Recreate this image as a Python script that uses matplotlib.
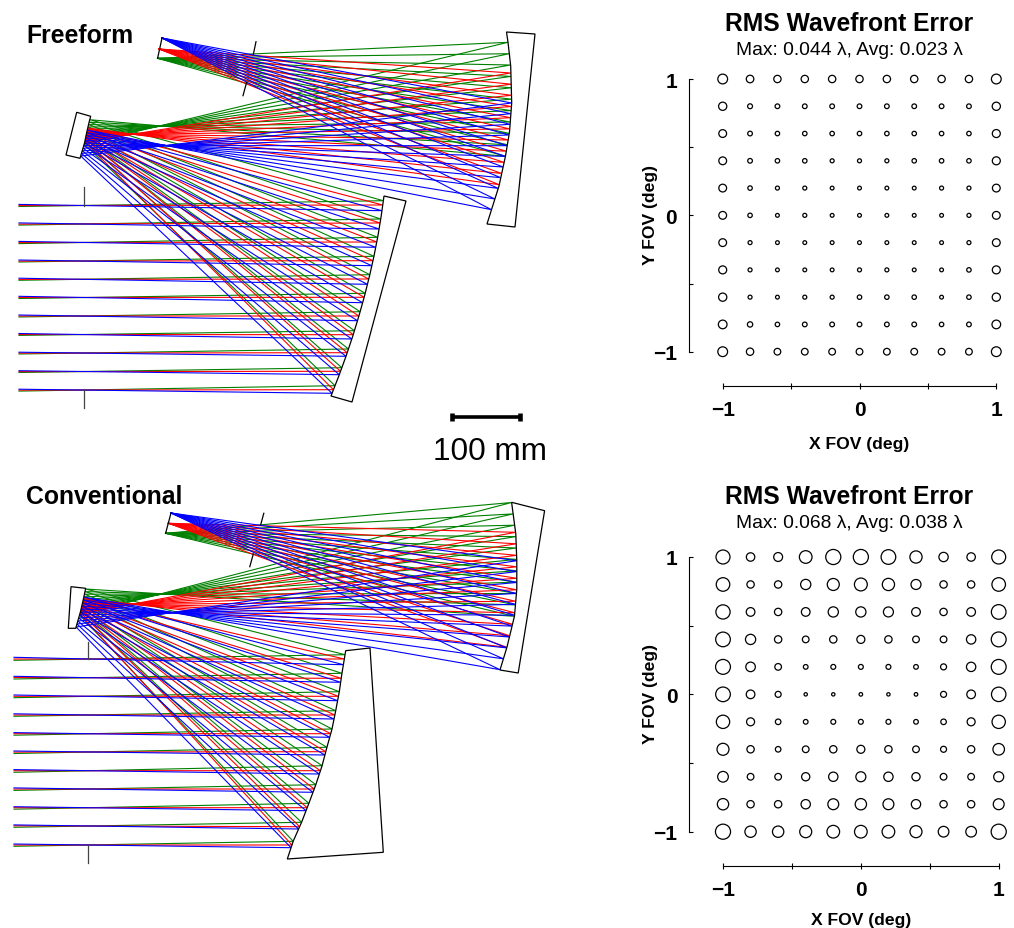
import numpy as np
import matplotlib
matplotlib.use("Agg")
import matplotlib.pyplot as plt

plt.rcParams['font.family'] = ['Liberation Sans', 'DejaVu Sans']

W, H = 1014, 929
COLORS = ['#008000', '#ff0000', '#0000ff']

# ---------- Freeform ray trace (pixel readings), fields: green, red, blue
ff_entry_x = 19
ff_entry = [
    [207.5, 226.1, 244.6, 263.0, 281.3, 299.5, 318.0, 336.4, 355.0, 373.5, 392.1],
    [206.6, 225.1, 243.6, 262.1, 280.4, 298.5, 317.0, 335.5, 354.1, 372.6, 391.1],
    [205.4, 223.9, 242.4, 261.0, 279.2, 297.3, 316.0, 334.5, 353.2, 371.7, 390.2],
]
ff_m1 = [
    [201.7, 220.0, 238.3, 257.3, 275.7, 294.3, 312.7, 331.7, 350.0, 368.7, 386.7],
    [206.0, 224.0, 243.0, 261.7, 280.0, 298.3, 317.0, 335.7, 353.7, 372.3, 390.7],
    [211.7, 230.0, 248.3, 266.7, 285.3, 303.7, 321.7, 340.0, 357.3, 375.7, 394.3],
]
ff_m2 = [
    [120.7, 123.1, 125.6, 128.0, 130.4, 132.9, 135.3, 137.7, 140.1, 142.6, 145.0],
    [129.0, 130.4, 131.8, 133.2, 134.6, 136.0, 137.4, 138.8, 140.2, 141.6, 143.0],
    [131.0, 133.6, 136.2, 138.8, 141.4, 144.0, 146.6, 149.2, 151.8, 154.4, 157.0],
]
ff_m3 = [
    [157.3, 145.8, 134.4, 123.0, 111.6, 100.2, 88.8, 77.4, 66.0, 54.7, 43.3],
    [185.7, 174.5, 163.4, 152.2, 141.0, 129.9, 118.7, 107.5, 96.3, 85.2, 74.0],
    [210.7, 200.0, 189.4, 178.7, 168.0, 157.4, 146.7, 136.0, 125.3, 114.7, 104.0],
]
ff_image = [(157.6, 59.3), (159.0, 50.0), (162.0, 39.0)]
ff_m1_y = [197, 217, 237, 257, 277, 297, 317, 337, 357, 377, 397]
ff_m1_x = [384, 381.2, 377.9, 374, 369.5, 364.5, 358.9, 352.8, 346.1, 338.8, 331]
ff_m1_back = [(352, 403), (406, 202)]
ff_m2_y = [117.3, 122, 133, 144, 159.3]
ff_m2_x = [90.7, 89.4, 86.8, 84.5, 80]
ff_m2_back = [(66, 156), (76.7, 113.3)]
ff_m3_y = [33, 43.3, 67, 104, 133, 157, 187, 211, 225]
ff_m3_x = [506.5, 508, 510.7, 511.7, 509.5, 505.5, 499, 491.4, 487]
ff_m3_back = [(515, 228), (535, 35)]
ff_image_line = [(162, 39), (157.6, 59.3)]
ff_stop_lines = [[(256, 42.7), (253.4, 55)], [(246.6, 83.3), (243, 96.7)],
                 [(83.5, 188.3), (83.5, 206.5)], [(83.5, 390.7), (83.5, 409.3)]]

# ---------- Conventional ray trace
cv_entry_x = 14
cv_entry = [
    [661.3, 680.0, 698.7, 717.3, 736.2, 754.5, 773.3, 791.4, 810.2, 828.3, 847.3],
    [660.0, 678.5, 697.3, 716.0, 734.7, 753.1, 771.7, 790.0, 808.7, 826.8, 846.0],
    [658.3, 677.3, 696.0, 714.8, 733.6, 752.0, 770.6, 788.9, 807.7, 825.9, 845.0],
]
cv_m1 = [
    [655.7, 674.3, 692.7, 711.7, 730.0, 748.3, 766.7, 785.7, 804.3, 823.3, 842.3],
    [660.0, 679.3, 697.3, 716.0, 734.7, 752.7, 771.7, 790.0, 808.7, 827.7, 846.0],
    [665.7, 683.3, 701.7, 720.0, 738.3, 756.0, 775.0, 793.3, 811.7, 830.0, 848.7],
]
cv_m2 = [
    [590.0, 592.6, 595.2, 597.8, 600.4, 603.0, 605.6, 608.2, 610.8, 613.4, 616.0],
    [599.5, 601.1, 602.6, 604.2, 605.7, 607.3, 608.8, 610.4, 611.9, 613.5, 615.0],
    [598.0, 601.0, 604.0, 607.0, 610.0, 613.0, 616.0, 619.0, 622.0, 625.0, 628.0],
]
cv_m3 = [
    [617.3, 605.9, 594.5, 583.1, 571.8, 560.4, 549.0, 537.6, 526.2, 514.9, 503.5],
    [648.3, 636.8, 625.3, 613.8, 602.3, 590.8, 579.3, 567.8, 556.3, 544.8, 533.3],
    [670.7, 659.8, 648.9, 638.0, 627.1, 616.2, 605.3, 594.4, 583.5, 572.6, 561.7],
]
cv_image = [(165.6, 534.3), (168.4, 524.3), (171.0, 514.0)]
cv_m1_y = [651.7, 674, 692.7, 711.7, 730, 748, 767, 786, 804, 823, 842, 860]
cv_m1_x = [345.7, 342, 339.3, 335.7, 332, 327, 322, 315.7, 309, 301.7, 293.3, 287.3]
cv_m1_back = [(383.3, 853.3), (370, 649)]
cv_m2_y = [589.3, 600, 613, 629.3]
cv_m2_x = [85.7, 83.4, 80.4, 75.7]
cv_m2_back = [(68.3, 629.3), (71, 587.7)]
cv_m3_y = [503.3, 535, 562, 590, 617, 648, 671]
cv_m3_x = [511.6, 515.8, 516.8, 516.8, 514.5, 507, 500]
cv_m3_back = [(518.2, 674), (544.6, 511.7)]
cv_image_line = [(171, 514), (165.6, 534.3)]
cv_stop_lines = [[(263.8, 514.3), (260.7, 525.7)], [(253.3, 555), (249.8, 567.7)],
                 [(88.4, 643), (88.4, 660)], [(88.4, 846), (88.4, 864)]]

# ---------- RMS wavefront error maps, milli-waves, rows from Y=+1 to Y=-1
fov_x = [-1, -0.8, -0.6, -0.4, -0.2, 0, 0.2, 0.4, 0.6, 0.8, 1]
fov_y = [1, 0.8, 0.6, 0.4, 0.2, 0, -0.2, -0.4, -0.6, -0.8, -1]
ff_rms = [
    [44, 34, 33, 33, 33, 33, 33, 33, 33, 33, 44],
    [37, 22, 21, 21, 21, 21, 21, 21, 21, 21, 37],
    [35, 21, 20, 20, 20, 20, 20, 20, 20, 20, 36],
    [35, 21, 20, 20, 18, 18, 18, 20, 20, 20, 36],
    [35, 20, 18, 18, 17, 17, 17, 17, 18, 18, 35],
    [35, 20, 17, 18, 17, 17, 17, 17, 17, 18, 35],
    [35, 18, 17, 17, 17, 17, 17, 17, 17, 18, 35],
    [36, 18, 17, 17, 17, 18, 18, 17, 17, 20, 36],
    [37, 18, 17, 18, 18, 20, 20, 20, 17, 20, 37],
    [39, 24, 20, 21, 21, 21, 21, 21, 20, 21, 39],
    [44, 33, 30, 30, 30, 30, 30, 30, 30, 30, 44],
]
cv_rms = [
    [63, 38, 40, 57, 68, 68, 66, 55, 42, 38, 63],
    [61, 33, 33, 46, 54, 58, 55, 45, 33, 33, 61],
    [64, 39, 33, 39, 46, 46, 45, 39, 33, 39, 66],
    [66, 46, 33, 30, 33, 36, 33, 30, 30, 42, 67],
    [67, 43, 30, 21, 22, 22, 22, 21, 27, 42, 67],
    [66, 39, 27, 15, 15, 16, 15, 16, 27, 39, 65],
    [60, 36, 25, 21, 22, 22, 22, 21, 25, 36, 60],
    [54, 33, 25, 30, 33, 36, 33, 30, 27, 33, 52],
    [48, 30, 30, 37, 42, 45, 42, 37, 30, 30, 45],
    [51, 33, 33, 42, 49, 51, 49, 42, 33, 33, 49],
    [68, 51, 51, 54, 57, 57, 57, 54, 48, 48, 68],
]
ff_subtitle = 'Max: 0.044 \u03bb, Avg: 0.023 \u03bb'
cv_subtitle = 'Max: 0.068 \u03bb, Avg: 0.038 \u03bb'

fig = plt.figure(figsize=(W / 100, H / 100), dpi=100)
ax = fig.add_axes([0, 0, 1, 1])
ax.set_xlim(0, W)
ax.set_ylim(H, 0)
ax.axis('off')


def design(entry_x, entry, m1, m2, m3, image, m1_p, m1_back, m2_p, m2_back, m3_p, m3_back,
           image_line, stops):
    for c, e, h1, h2, h3, im in zip(COLORS, entry, m1, m2, m3, image):
        x1 = np.interp(h1, m1_p[0], m1_p[1])
        x2 = np.interp(h2, m2_p[0], m2_p[1])
        x3 = np.interp(h3, m3_p[0], m3_p[1])
        for i in range(len(e)):
            ax.plot([entry_x, x1[i], x2[i], x3[i], im[0]],
                    [e[i], h1[i], h2[i], h3[i], im[1]],
                    color=c, lw=0.8, solid_joinstyle='miter', zorder=2)
    for (py, px), back in ((m1_p, m1_back), (m2_p, m2_back), (m3_p, m3_back)):
        xs = list(px) + [b[0] for b in back]
        ys = list(py) + [b[1] for b in back]
        ax.fill(xs, ys, facecolor='white', edgecolor='black', lw=0.9, zorder=3)
    ax.plot(*zip(*image_line), color='black', lw=0.9, zorder=4)
    for k, s in enumerate(stops):
        ax.plot(*zip(*s), color='black' if k < 2 else '#444444', lw=0.9, zorder=4)


design(ff_entry_x, ff_entry, ff_m1, ff_m2, ff_m3, ff_image,
       (ff_m1_y, ff_m1_x), ff_m1_back, (ff_m2_y, ff_m2_x), ff_m2_back,
       (ff_m3_y, ff_m3_x), ff_m3_back, ff_image_line, ff_stop_lines)
design(cv_entry_x, cv_entry, cv_m1, cv_m2, cv_m3, cv_image,
       (cv_m1_y, cv_m1_x), cv_m1_back, (cv_m2_y, cv_m2_x), cv_m2_back,
       (cv_m3_y, cv_m3_x), cv_m3_back, cv_image_line, cv_stop_lines)

ax.text(26, 36, 'Freeform', fontsize=17.8, fontweight='bold', va='center', ha='left')
ax.text(26, 497, 'Conventional', fontsize=17.8, fontweight='bold', va='center', ha='left')

# scale bar
ax.plot([451, 521], [417.7, 417.7], color='black', lw=2.6, solid_capstyle='butt')
ax.plot([451.7, 451.7], [414, 422.3], color='black', lw=3.3, solid_capstyle='butt')
ax.plot([520.3, 520.3], [414, 422.3], color='black', lw=3.3, solid_capstyle='butt')
ax.text(490, 460, '100 mm', fontsize=22.7, ha='center', va='baseline')


def rms_panel(x0, x1, y_top, y_bot, axis_x, axis_y, values, subtitle, title_y, sub_y, ylab_y, xlab_y):
    a = fig.add_axes([x0 / W, 1 - y_bot / H, (x1 - x0) / W, (y_bot - y_top) / H])
    a.set_xlim(-1, 1)
    a.set_ylim(-1, 1)
    a.patch.set_alpha(0)
    X, Y = np.meshgrid(fov_x, fov_y)
    # 222 px diameter per wave
    d_pt = np.array(values, float) / 1000 * 222 * 0.72
    a.scatter(X.ravel(), Y.ravel(), s=(d_pt.ravel()) ** 2, facecolor='none',
              edgecolor='black', linewidth=0.9, clip_on=False)
    for s in ('top', 'right'):
        a.spines[s].set_visible(False)
    a.spines['left'].set_position(('outward', (x0 - axis_x) * 0.72))
    a.spines['bottom'].set_position(('outward', (axis_y - y_bot) * 0.72))
    a.spines['left'].set_linewidth(0.8)
    a.spines['bottom'].set_linewidth(0.8)
    a.set_xticks([-1, 0, 1], ['\u22121', '0', '1'])
    a.set_yticks([-1, 0, 1], ['\u22121', '0', '1'])
    a.set_xticks([-0.5, 0.5], minor=True)
    a.set_yticks([-0.5, 0.5], minor=True)
    a.tick_params(axis='x', which='both', direction='inout', length=4.5, width=0.8, pad=7.5)
    a.tick_params(axis='y', which='both', direction='in', length=3, width=0.8, pad=8.5)
    for t in a.get_xticklabels() + a.get_yticklabels():
        t.set_fontsize(15)
        t.set_fontweight('bold')
    xc = 849
    ax.text(xc, title_y, 'RMS Wavefront Error', fontsize=17.7, fontweight='bold', ha='center', va='center')
    ax.text(xc, sub_y, subtitle, fontsize=13.9, ha='center', va='center')
    ax.text(651, ylab_y, 'Y FOV (deg)', fontsize=12.6, fontweight='bold', rotation=90, ha='center', va='center')
    ax.text((x0 + x1) / 2, xlab_y, 'X FOV (deg)', fontsize=12.6, fontweight='bold', ha='center', va='center')


rms_panel(722.7, 996.3, 80, 352.7, 689, 387, ff_rms, ff_subtitle, 24, 50, 215, 444)
rms_panel(723, 998.7, 558, 832.7, 689.3, 867.4, cv_rms, cv_subtitle, 497, 523, 694, 921)

fig.savefig('out.png', dpi=100)
